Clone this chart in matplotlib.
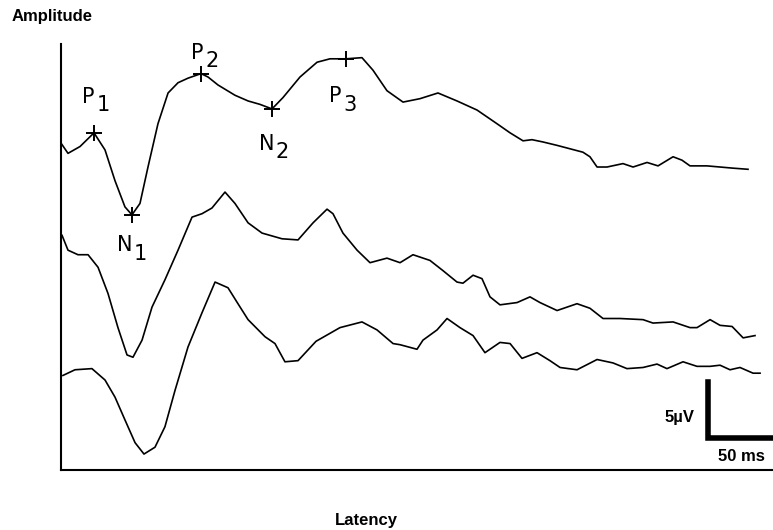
import matplotlib
matplotlib.use("Agg")
import matplotlib.pyplot as plt

# latency in ms, amplitude in uV (three stacked averaged responses)
t_top = [0, 5.4, 14.7, 25.5, 34.0, 41.7, 49.4, 54.8, 61.0, 67.2, 74.9, 82.7, 90.4, 98.1,
         108.2, 113.6, 121.3, 134.4, 144.5, 153.7, 163.0, 171.5, 184.6, 197.8, 207.8, 220.2,
         232.5, 241.0, 251.8, 264.2, 277.3, 291.2, 305.9, 321.4, 336.8, 346.9, 356.9, 363.8,
         372.3, 383.2, 393.2, 403.2, 408.6, 414.1, 421.8, 434.1, 441.9, 452.7, 461.2, 472.8,
         479.7, 485.9, 499.0, 509.1, 519.1, 530.7]
a_top = [28.7, 27.8, 28.4, 29.6, 28.1, 25.4, 23.1, 22.4, 23.4, 26.6, 30.4, 33.1, 34.0, 34.4,
         34.8, 34.5, 33.8, 32.9, 32.4, 32.1, 31.7, 32.7, 34.5, 35.8, 36.1, 36.1,
         36.2, 35.1, 33.3, 32.3, 32.6, 33.1, 32.4, 31.6, 30.4, 29.6, 28.9, 29.0,
         28.8, 28.5, 28.2, 27.9, 27.5, 26.6, 26.6, 26.9, 26.6, 27.0, 26.7, 27.5,
         27.2, 26.7, 26.7, 26.6, 26.5, 26.4]

t_mid = [0.8, 5.4, 13.1, 20.9, 28.6, 36.3, 44.0, 51.0, 55.6, 62.6, 70.3, 80.3, 90.4, 101.2,
         108.9, 116.6, 126.7, 134.4, 144.5, 155.3, 170.7, 183.1, 194.7, 205.5, 210.1, 217.8,
         228.7, 238.7, 251.8, 261.9, 271.9, 285.0, 295.1, 305.9, 310.5, 318.3, 325.2, 331.4,
         339.1, 352.3, 362.3, 370.0, 383.2, 398.6, 408.6, 418.7, 431.8, 449.6, 457.3, 472.8,
         485.9, 491.3, 501.4, 509.1, 518.4, 526.9, 536.1]
a_mid = [20.6, 19.3, 18.9, 18.9, 17.8, 15.5, 12.5, 10.1, 9.9, 11.4, 14.3, 16.7, 19.3, 22.2,
         22.5, 23.0, 24.4, 23.4, 21.7, 20.8, 20.3, 20.2, 21.7, 22.9, 22.5, 20.8,
         19.3, 18.2, 18.6, 18.2, 18.9, 18.4, 17.5, 16.5, 16.4, 17.1, 16.8, 15.2,
         14.5, 14.7, 15.2, 14.7, 14.0, 14.6, 14.2, 13.3, 13.3, 13.2, 12.9, 13.0,
         12.5, 12.5, 13.2, 12.7, 12.6, 11.6, 11.8]

t_bot = [1.5, 10.8, 23.9, 34.0, 41.7, 49.4, 57.2, 64.1, 72.6, 80.3, 88.1, 98.1, 108.9, 119.0,
         129.0, 136.7, 144.5, 157.6, 165.3, 173.0, 183.1, 197.0, 215.5, 232.5, 244.1, 256.5,
         261.9, 275.0, 279.6, 290.5, 298.2, 308.2, 318.3, 327.5, 339.1, 346.9, 356.1, 367.7,
         377.7, 385.5, 398.6, 414.1, 426.4, 437.2, 449.6, 460.4, 468.1, 480.5, 491.3, 501.4,
         509.1, 516.8, 524.5, 534.6, 540.0]
a_bot = [8.3, 8.8, 8.9, 7.9, 6.4, 4.4, 2.4, 1.4, 2.0, 3.8, 7.0, 10.8, 13.8, 16.5,
         16.0, 14.6, 13.2, 11.7, 11.1, 9.5, 9.6, 11.3, 12.5, 13.0, 12.3, 11.1,
         11.0, 10.6, 11.4, 12.3, 13.3, 12.5, 11.8, 10.3, 11.2, 11.1, 9.8, 10.3,
         9.6, 9.0, 8.8, 9.7, 9.4, 8.9, 9.0, 9.3, 8.9, 9.5, 9.1, 9.1,
         9.2, 8.8, 9.0, 8.5, 8.5]

# marked components on the top trace
peak_names = ["P", "N", "P", "N", "P"]
peak_idx = ["1", "1", "2", "2", "3"]
peak_t = [25.5, 54.8, 108.2, 163.0, 220.2]
peak_a = [29.6, 22.4, 34.8, 31.7, 36.1]
# label offsets (points) of letter relative to marker
label_dx = [-4, -5, -3, -4, -8]
label_dy = [26, -22, 15, -25, -27]

fig = plt.figure(figsize=(7.73, 5.30), dpi=100)
ax = fig.add_axes([61 / 773, 60 / 530, 712 / 773, 426 / 530])

for t, a in [(t_top, a_top), (t_mid, a_mid), (t_bot, a_bot)]:
    ax.plot(t, a, color="black", lw=1.2, solid_joinstyle="round")

ax.plot(peak_t, peak_a, "+", color="black", ms=12, mew=1.4)
for name, idx, t, a, dx, dy in zip(peak_names, peak_idx, peak_t, peak_a, label_dx, label_dy):
    ax.annotate(name, (t, a), xytext=(dx, dy), textcoords="offset points",
                ha="center", va="center", fontsize=15)
    ax.annotate(idx, (t, a), xytext=(dx + 11, dy - 6), textcoords="offset points",
                ha="center", va="center", fontsize=15)

# calibration bar: 5 uV by 50 ms
ax.plot([500, 500, 550], [7.7, 2.8, 2.8], color="black", lw=4,
        solid_joinstyle="miter", clip_on=False)
ax.text(478, 4.6, "5µV", ha="center", va="center", fontsize=12,
        fontweight="bold", family="Liberation Sans")
ax.text(526, 1.2, "50 ms", ha="center", va="center", fontsize=12,
        fontweight="bold", family="Liberation Sans")

ax.set_xlim(0, 550)
ax.set_ylim(0, 37.4)
ax.set_xticks([])
ax.set_yticks([])
ax.spines["top"].set_visible(False)
ax.spines["right"].set_visible(False)
ax.spines["left"].set_linewidth(1.5)
ax.spines["bottom"].set_linewidth(1.5)

fig.text(12 / 773, 1 - 17 / 530, "Amplitude", ha="left", va="center", fontsize=12,
         fontweight="bold", family="Liberation Sans")
fig.text(366 / 773, 1 - 520 / 530, "Latency", ha="center", va="center", fontsize=12,
         fontweight="bold", family="Liberation Sans")

fig.savefig("out.png", dpi=100)
